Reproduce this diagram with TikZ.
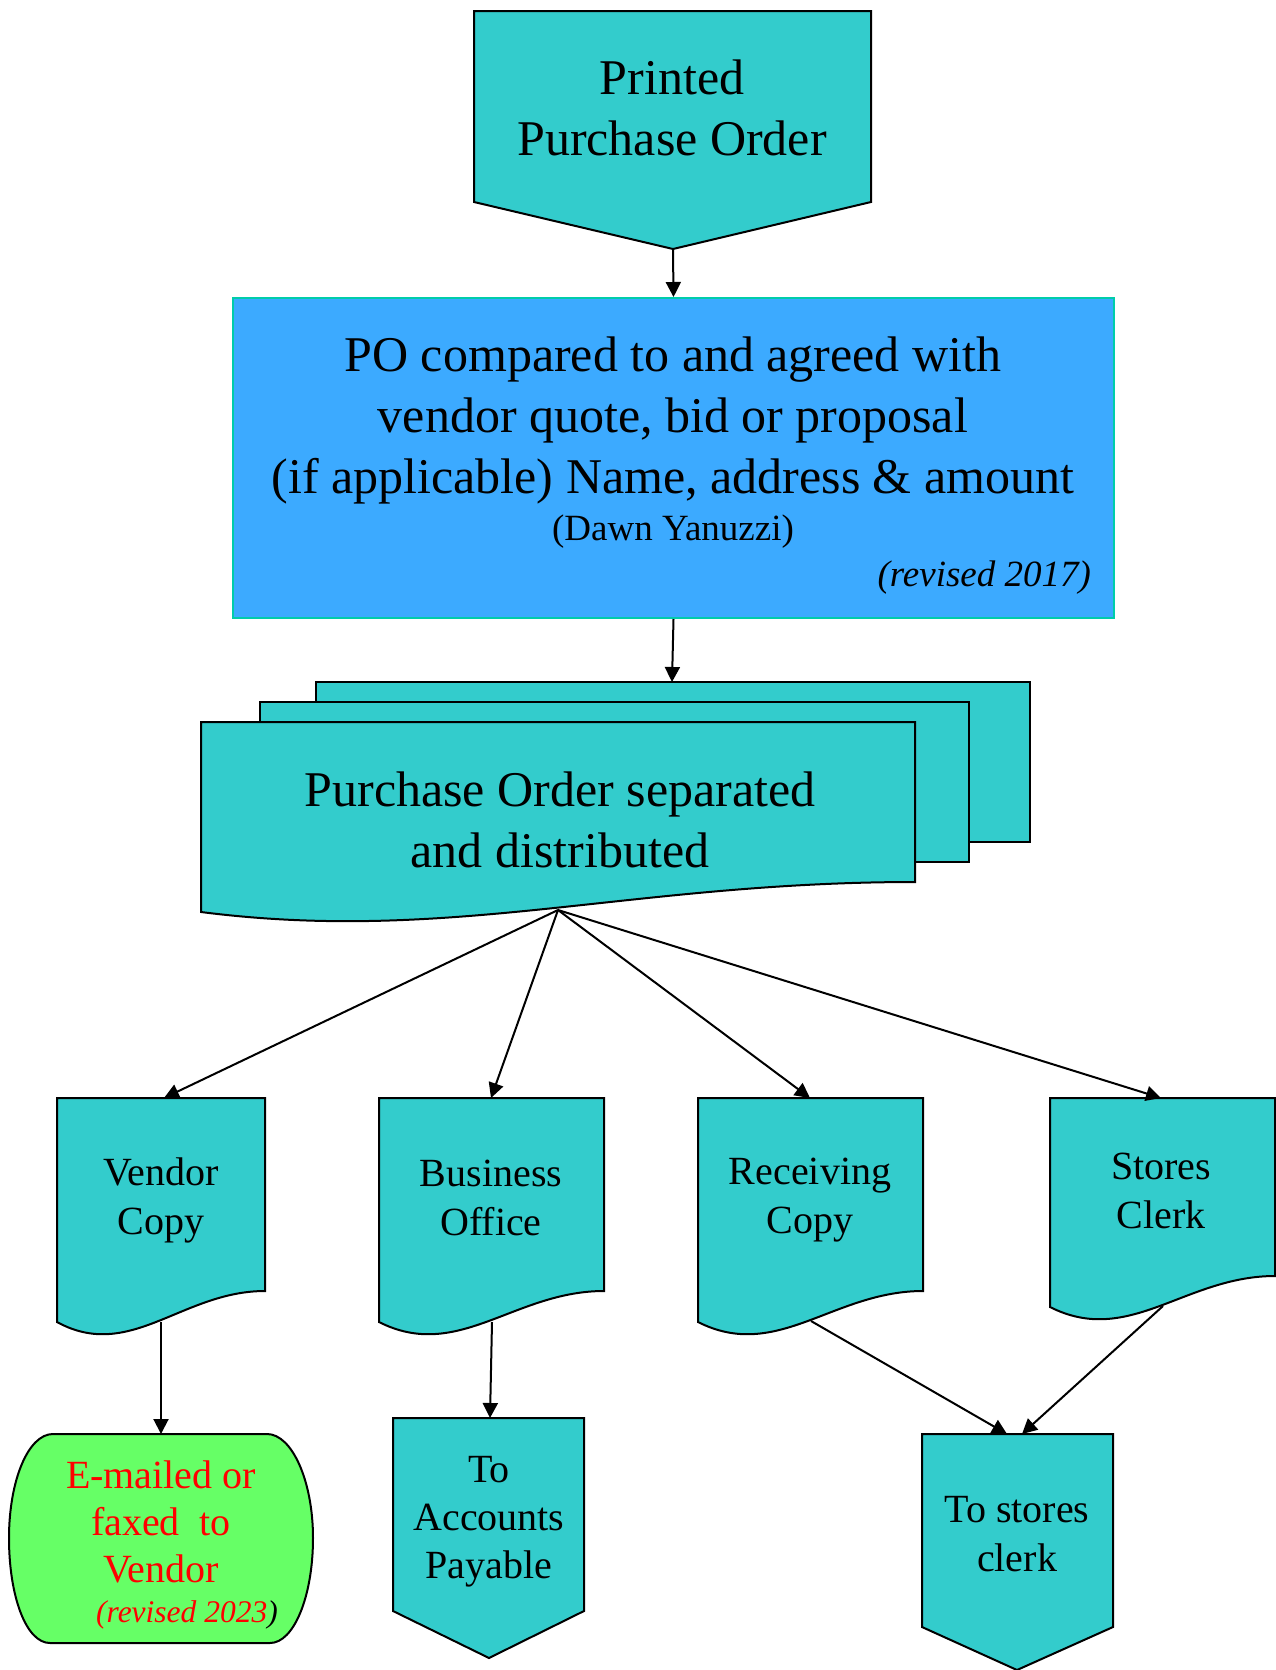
\documentclass[tikz,border=0pt]{standalone}
\usepackage{fontspec}
\setmainfont{Liberation Serif}
\usetikzlibrary{arrows.meta}

\definecolor{docteal}{RGB}{51,204,204}
\definecolor{poblue}{RGB}{60,170,255}
\definecolor{poedge}{RGB}{0,204,170}
\definecolor{mailgreen}{RGB}{102,255,102}

\tikzset{
  docbox/.style={draw=black, fill=docteal, line width=1pt},
  pobox/.style={draw=poedge, fill=poblue, line width=1pt, inner sep=0pt,
    minimum width=440.5pt, minimum height=160pt},
  arr/.style={line width=1pt, -{Triangle[length=7.5pt,width=7.5pt]}},
  bigtxt/.style={font=\fontsize{25}{30.5}\selectfont, align=center},
  midtxt/.style={font=\fontsize{20}{24.5}\selectfont, align=center},
}

\begin{document}
\begin{tikzpicture}[x=0.5pt,y=-0.5pt]
\useasboundingbox (0,0) rectangle (1275,1670);

% printed purchase order
\draw[docbox] (474,11) -- (871,11) -- (871,202) -- (673,249) coordinate (ppo) -- (474,202) -- cycle;
\node[bigtxt] (ppotxt) at (672,108) {Printed\\Purchase Order};

% check against quote
\node[pobox] (pocheck) at (673.5,458) {};
\node[bigtxt] (potxt) at (673,420) {PO compared to and agreed with\\vendor quote, bid or proposal\\(if applicable) Name, address \& amount};
\node[font=\fontsize{18.5}{22}\selectfont] (dawn) at (673,532) {(Dawn Yanuzzi)};
\node[font=\fontsize{18.5}{22}\selectfont\itshape, anchor=east] (rev17) at (1098,578) {(revised 2017)};

% separated copies
\draw[docbox] (316,682) -- (672,682) coordinate (stk) -- (1030,682) -- (1030,842) -- (316,842) -- cycle;
\draw[docbox] (260,702) rectangle (969,862);
\draw[docbox] (201,722) -- (915,722) -- (915,882) .. controls (629,882) and (451,944) .. (201,912) -- cycle;
\coordinate (pod) at (558,910);
\node[bigtxt] (stktxt) at (560,820) {Purchase Order separated\\and distributed};

% the four copies
\draw[docbox] (57,1098) -- (164,1098) coordinate (vc-in) -- (265,1098) -- (265,1291) .. controls (182,1291) and (130,1362) .. (57,1322) -- cycle;
\coordinate (vc-out) at (161,1322);
\node[midtxt] (vctxt) at (161,1200) {Vendor\\Copy};

\draw[docbox] (379,1098) -- (491,1098) coordinate (bo-in) -- (604,1098) -- (604,1291) .. controls (514,1291) and (458,1362) .. (379,1322) -- cycle;
\coordinate (bo-out) at (492,1322);
\node[midtxt] (botxt) at (491,1198) {Business\\Office};

\draw[docbox] (698,1098) -- (810,1098) coordinate (rc-in) -- (923,1098) -- (923,1291) .. controls (833,1291) and (777,1362) .. (698,1322) -- cycle;
\coordinate (rc-out) at (811,1321);
\node[midtxt] (rctxt) at (810,1200) {Receiving\\Copy};

\draw[docbox] (1050,1098) -- (1161,1098) coordinate (sc-in) -- (1275,1098) -- (1275,1276) .. controls (1185,1276) and (1129,1347) .. (1050,1307) -- cycle;
\coordinate (sc-out) at (1163,1306);
\node[midtxt] (sctxt) at (1161,1191) {Stores\\Clerk};

% where they go
\draw[line width=1pt, fill=mailgreen] (53,1434) -- (161,1434) coordinate (mail-in) -- (267,1434)
  .. controls (292,1434) and (313,1481) .. (313,1538)
  .. controls (313,1596) and (294,1643) .. (270,1643) -- (50,1643)
  .. controls (26,1643) and (9,1596) .. (9,1538)
  .. controls (9,1481) and (28,1434) .. (53,1434) -- cycle;
\node[font=\fontsize{20}{23.5}\selectfont, align=center, text=red] (mailtxt) at (161,1522) {E-mailed or\\faxed\ \ to\\Vendor};
\node[font=\fontsize{15.75}{19}\selectfont\itshape] (rev23) at (187,1615) {\textcolor{red}{(revised 2023})};

\draw[docbox] (393,1418) -- (490,1418) coordinate (tap-in) -- (584,1418) -- (584,1611) -- (489,1658) -- (393,1611) -- cycle;
\node[midtxt, font=\fontsize{20}{24}\selectfont] (taptxt) at (489,1522) {To\\Accounts\\Payable};

\draw[docbox] (922,1434) -- (1113,1434) -- (1113,1627) -- (1017,1670) -- (922,1627) -- cycle;
\coordinate (ts-in1) at (1007,1434);
\coordinate (ts-in2) at (1022,1434);
\node[midtxt] (tstxt) at (1017,1534) {To stores\\clerk};

% connectors
\draw[arr] (ppo) -- (pocheck.north);
\draw[arr] (pocheck.south) -- (stk);
\draw[arr] (pod) -- (vc-in);
\draw[arr] (pod) -- (bo-in);
\draw[arr] (pod) -- (rc-in);
\draw[arr] (pod) -- (sc-in);
\draw[arr] (vc-out) -- (mail-in);
\draw[arr] (bo-out) -- (tap-in);
\draw[arr] (rc-out) -- (ts-in1);
\draw[arr] (sc-out) -- (ts-in2);

\end{tikzpicture}
\end{document}
